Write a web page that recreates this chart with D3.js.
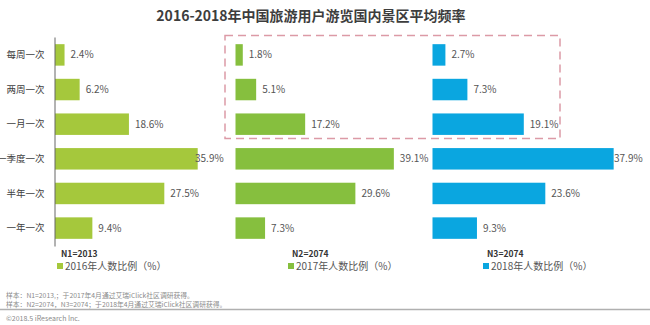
<!DOCTYPE html>
<html>
<head>
<meta charset="utf-8">
<script src="https://cdn.jsdelivr.net/npm/d3@7"></script>
<style>
  body { margin: 0; background: #fff; }
  svg { display: block; font-family: "Noto Sans CJK SC", "Noto Sans", sans-serif; }
</style>
</head>
<body>
<div id="chart"></div>
<script>
const categories = ["每周一次", "两周一次", "一月一次", "一季度一次", "半年一次", "一年一次"];
const values2016 = [2.4, 6.2, 18.6, 35.9, 27.5, 9.4];
const values2017 = [1.8, 5.1, 17.2, 39.1, 29.6, 7.3];
const values2018 = [2.7, 7.3, 19.1, 37.9, 23.6, 9.3];
const seriesNames = ["2016年人数比例（%）", "2017年人数比例（%）", "2018年人数比例（%）"];
const sampleSizes = ["N1=2013", "N2=2074", "N3=2074"];

const width = 650, height = 325;

const svg = d3.select("#chart")
    .append("svg")
    .attr("width", width)
    .attr("height", height);

// title
svg.append("text")
    .attr("x", 311)
    .attr("y", 21)
    .attr("text-anchor", "middle")
    .attr("font-size", 14)
    .attr("font-weight", "bold")
    .attr("fill", "#3d3d3d")
    .text("2016-2018年中国旅游用户游览国内景区平均频率");

// shared row scale
const y = d3.scaleBand()
    .domain(categories)
    .range([37, 246])
    .paddingInner(0.38)
    .paddingOuter(0.207);

// each panel has its own x scale
const panels = [
    { values: values2016, color: "#a5c83c", x0: 55, x1: 214, labelMax: 195, legendX: 57 },
    { values: values2017, color: "#86bf3e", x0: 235.5, x1: 397.5, labelMax: 600, legendX: 288 },
    { values: values2018, color: "#0aa6e0", x0: 432.5, x1: 623.7, labelMax: 614, legendX: 483 }
];

panels.forEach(function(p, i) {
    const x = d3.scaleLinear().domain([0, 40]).range([p.x0, p.x1]);
    const g = svg.append("g");

    g.selectAll("rect")
        .data(p.values)
        .join("rect")
        .attr("x", x(0))
        .attr("y", (d, j) => y(categories[j]))
        .attr("width", d => x(d) - x(0))
        .attr("height", y.bandwidth())
        .attr("fill", p.color);

    g.selectAll("text.val")
        .data(p.values)
        .join("text")
        .attr("class", "val")
        .attr("x", d => Math.min(x(d) + 6, p.labelMax))
        .attr("y", (d, j) => y(categories[j]) + y.bandwidth() / 2)
        .attr("dy", "0.35em")
        .attr("font-size", 10)
        .attr("fill", "#555")
        .text(d => d.toFixed(1) + "%");

    // legend
    svg.append("text")
        .attr("x", p.legendX + 4)
        .attr("y", 257)
        .attr("font-size", 8.5)
        .attr("font-weight", "bold")
        .attr("fill", "#333")
        .text(sampleSizes[i]);
    svg.append("rect")
        .attr("x", p.legendX)
        .attr("y", 263)
        .attr("width", 6)
        .attr("height", 6)
        .attr("fill", p.color);
    svg.append("text")
        .attr("x", p.legendX + 8)
        .attr("y", 269.5)
        .attr("font-size", 10)
        .attr("fill", "#555")
        .text(seriesNames[i]);
});

// category axis (only on the first panel)
const yAxis = svg.append("g")
    .attr("transform", "translate(54.5,0)")
    .call(d3.axisLeft(y).tickSize(0).tickPadding(10));
yAxis.select(".domain").attr("stroke", "#666");
yAxis.selectAll("text")
    .attr("font-size", 9.5)
    .attr("fill", "#404040")
    .attr("font-family", "\"Noto Sans CJK SC\", sans-serif");

// dashed highlight box
svg.append("rect")
    .attr("x", 225)
    .attr("y", 35.5)
    .attr("width", 335)
    .attr("height", 103)
    .attr("fill", "none")
    .attr("stroke", "#dc9aa6")
    .attr("stroke-width", 1.5)
    .attr("stroke-dasharray", "8,5");

// notes
svg.append("text")
    .attr("x", 6).attr("y", 297.5)
    .attr("font-size", 6.8).attr("fill", "#8a8a8a")
    .text("样本：N1=2013,；于2017年4月通过艾瑞iClick社区调研获得。");
svg.append("text")
    .attr("x", 6).attr("y", 306.5)
    .attr("font-size", 6.8).attr("fill", "#8a8a8a")
    .text("样本：N2=2074，N3=2074；于2018年4月通过艾瑞iClick社区调研获得。");

svg.append("line")
    .attr("x1", 0).attr("x2", width)
    .attr("y1", 309.5).attr("y2", 309.5)
    .attr("stroke", "#b0b0b0")
    .attr("stroke-width", 1.5);

svg.append("text")
    .attr("x", 6).attr("y", 321)
    .attr("font-size", 7).attr("fill", "#8a8a8a")
    .text("©2018.5 iResearch Inc.");
</script>
</body>
</html>
